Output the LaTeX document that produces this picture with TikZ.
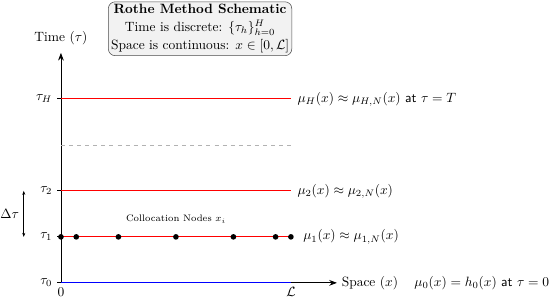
\documentclass[tikz,border=0pt]{standalone}
\usepackage{amsmath,amssymb}
\usetikzlibrary{positioning,arrows.meta}

\tikzset{
    level/.style={red, semithick},
    colnode/.style={circle, fill=black, inner sep=0pt, minimum size=4.2pt},
    infobox/.style={draw=black!70, rounded corners=5pt, fill=gray!10, align=center, inner sep=2pt}
}

\begin{document}
\begin{tikzpicture}

\useasboundingbox (-1.59,-0.52) rectangle (12.76,7.38);

% ===== Trục =====
\coordinate (O) at (0,0);
\coordinate (L) at (6,0);
\coordinate (xend) at (7.2,0);
\coordinate (yend) at (0,6.0);
\draw[-Stealth, semithick] (O) -- (xend) node[right] (xlab) {Space $(x)$};
\draw[-Stealth, semithick] (O) -- (yend) node[above=2pt] (ylab) {Time $(\tau)$};
\node[below] (zero) at (O) {$0$};
\node[below] (Llab) at (L) {$\mathcal{L}$};

% ===== Các mức thời gian =====
\draw[blue, semithick] (O) -- (L);
\foreach \y/\name in {1.2/1, 2.4/2, 4.8/H} {
    \draw[level] (0,\y) -- (6,\y);
}
\draw[gray!60, dashed] (0,3.6) -- (6,3.6);

% ===== Nhãn trục dọc =====
\foreach \y/\name in {0/0, 1.2/1, 2.4/2, 4.8/H} {
    \draw[semithick] (0,\y) -- (-0.1,\y) node[left] (t\name) {$\tau_{\name}$};
}

% ===== Khoảng Delta tau =====
\coordinate (d1) at (-0.97,1.2);
\coordinate (d2) at (-0.97,2.4);
\draw[{Stealth[length=3pt]}-{Stealth[length=3pt]}] (d1) -- (d2) node[midway, left] (dtau) {$\Delta\tau$};

% ===== Nút collocation =====
\foreach \x [count=\i] in {0,0.40,1.5,3,4.5,5.60,6} {
    \node[colnode] (c\i) at (\x,1.2) {};
}
\node[above=0.15 of c4] (collab) {\scriptsize Collocation Nodes $x_i$};

% ===== Nhãn nghiệm =====
\node[right=0.12 of c7] (mu1) {$\mu_1(x) \approx \mu_{1,N}(x)$};
\node[anchor=west] (mu2) at (6.05,2.4) {$\mu_2(x) \approx \mu_{2,N}(x)$};
\node[anchor=west] (muH) at (6.05,4.8) {$\mu_H(x) \approx \mu_{H,N}(x)$ \textsf{at} $\tau = T$};
\node[anchor=west] (mu0) at (9.1,0) {$\mu_0(x) = h_0(x)$ \textsf{at} $\tau = 0$};

% ===== Hộp tiêu đề =====
\node[infobox] (title) at (3.63,6.63) {\textbf{Rothe Method Schematic}\\[1pt]
    Time is discrete: $\{\tau_h\}_{h=0}^{H}$\\[1.5pt]
    Space is continuous: $x \in [0,\mathcal{L}]$};

\end{tikzpicture}
\end{document}
